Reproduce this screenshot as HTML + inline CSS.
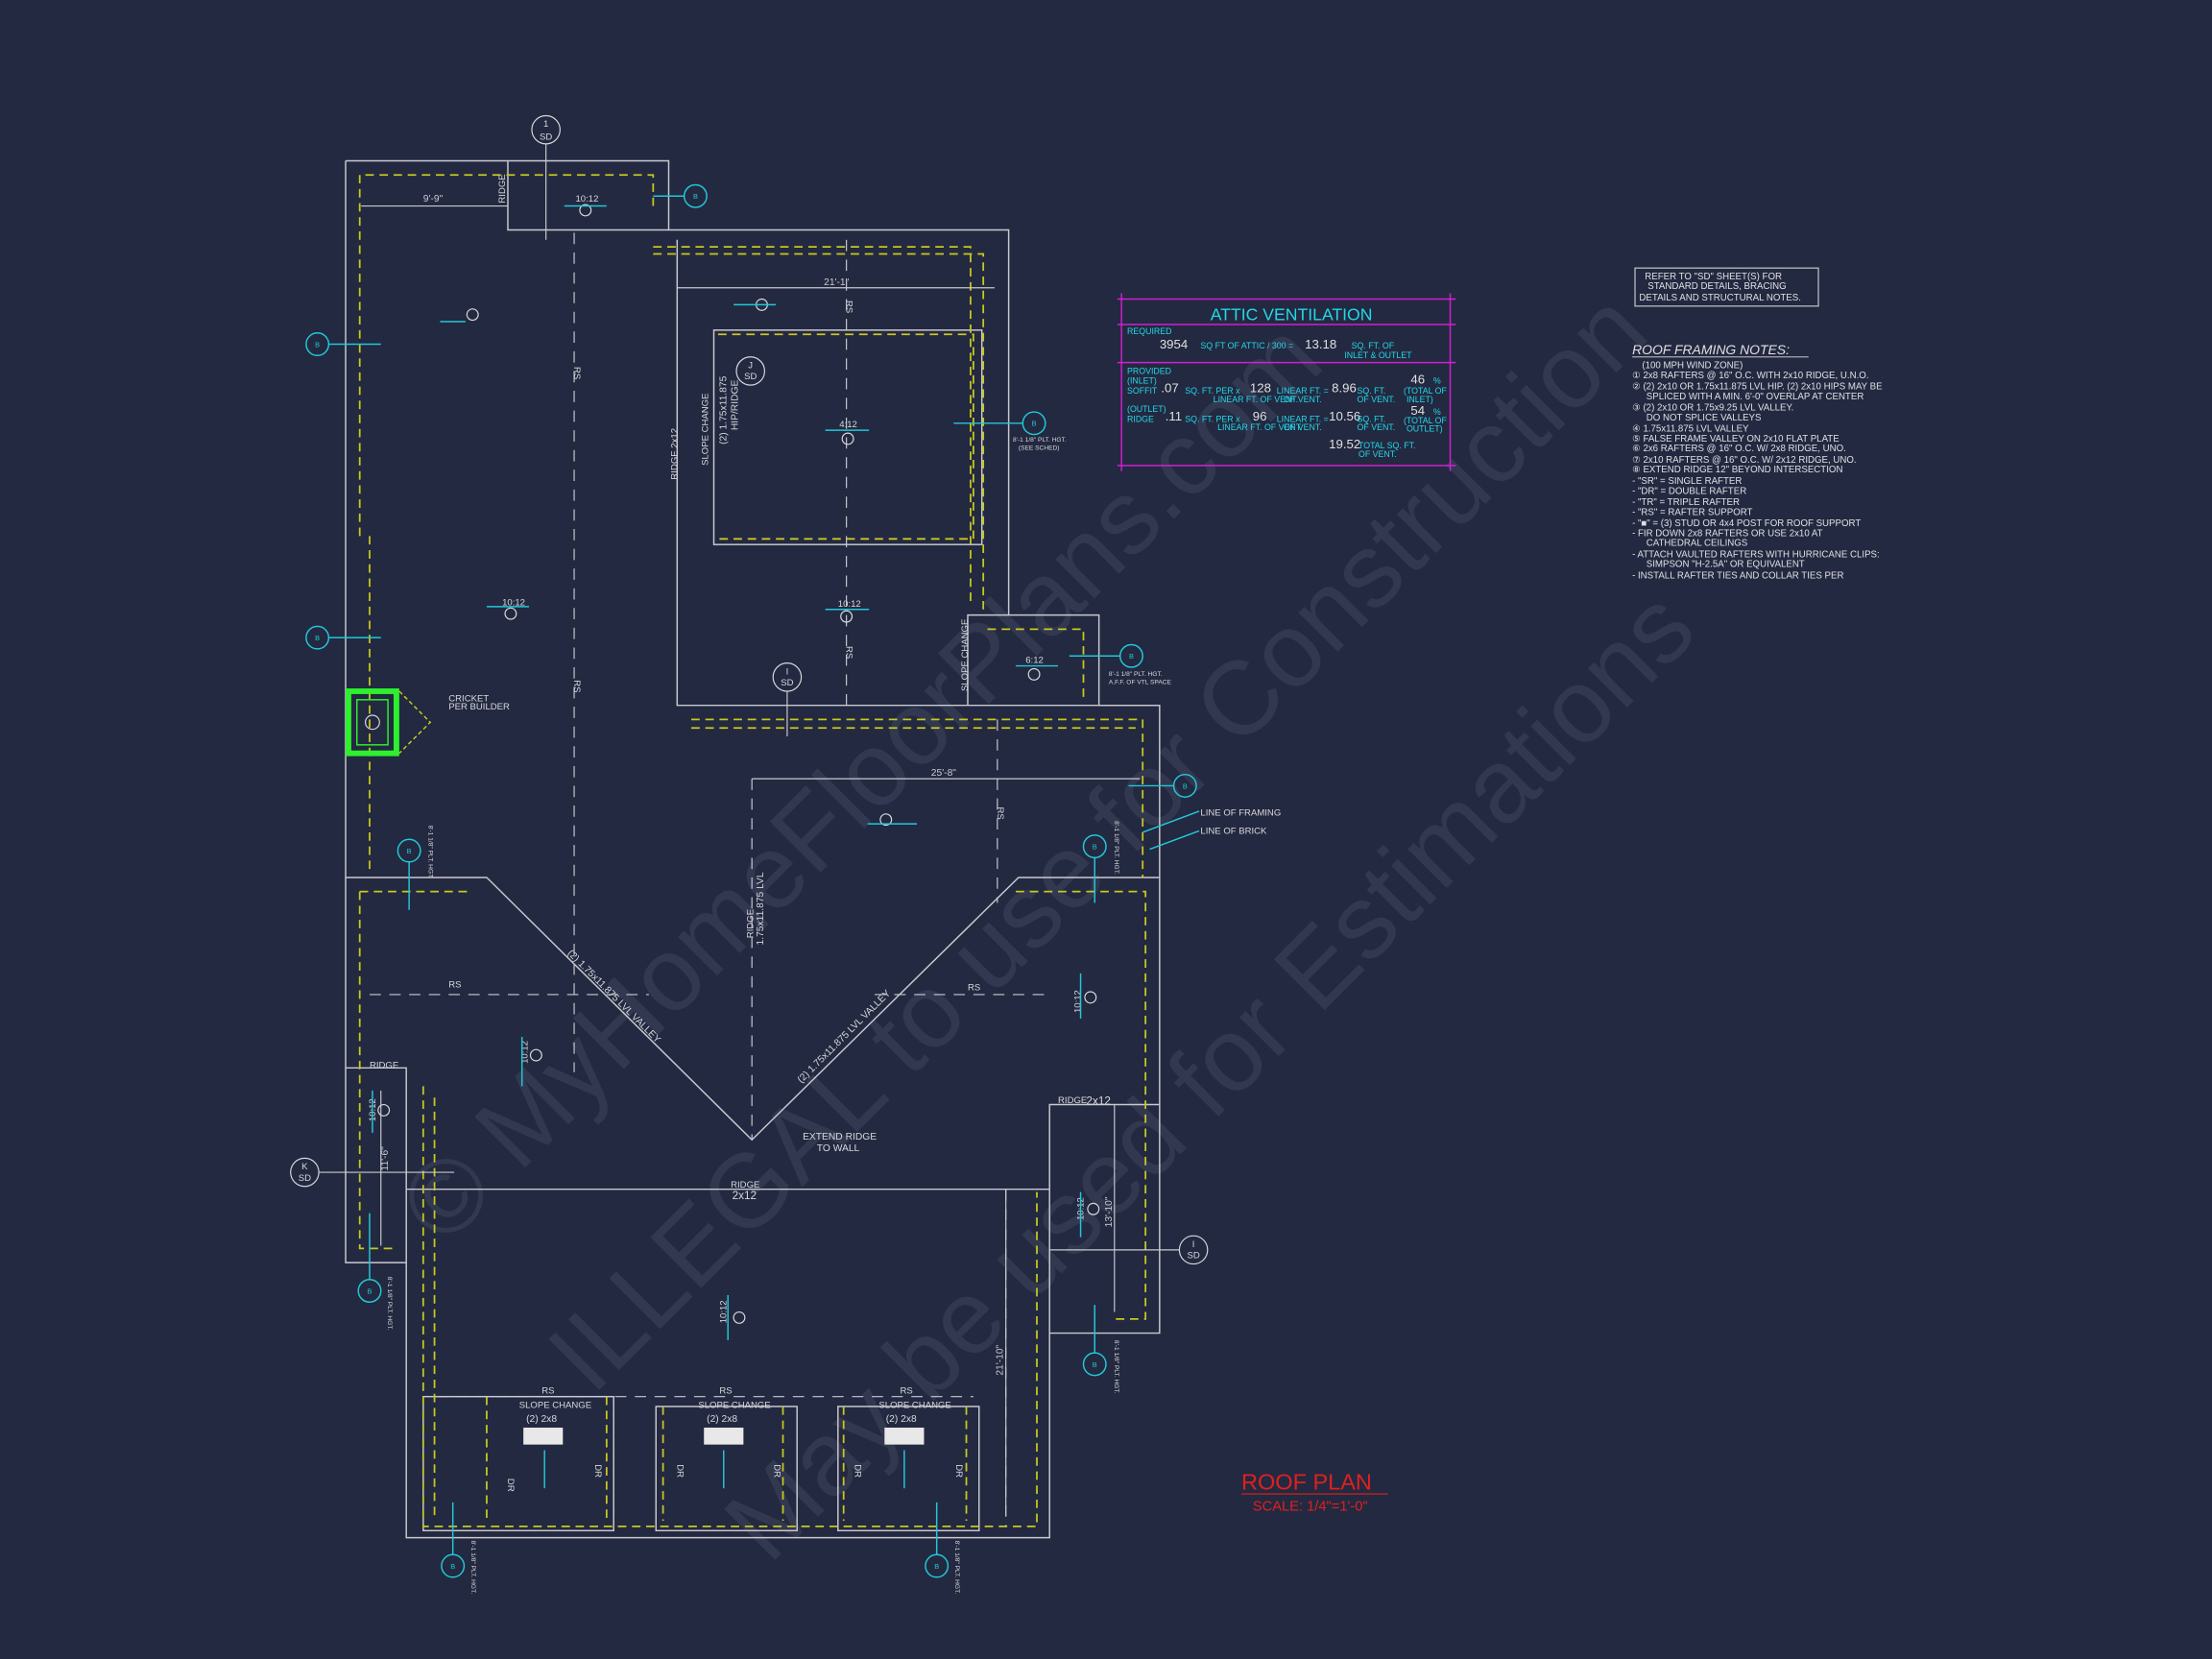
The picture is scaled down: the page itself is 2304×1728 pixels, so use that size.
<!DOCTYPE html>
<html><head><meta charset="utf-8"><style>
html,body{margin:0;padding:0;background:#232940;}
svg{display:block}
text{font-family:"Liberation Sans",sans-serif}
</style></head><body>
<svg width="2304" height="1728" viewBox="0 0 1568 1176" xmlns="http://www.w3.org/2000/svg">
<rect width="1568" height="1176" fill="#232940"/>
<!-- watermark -->
<g fill="#323850" font-family="Liberation Serif" font-size="74">
<text transform="translate(315,885) rotate(-45)">© MyHomeFloorPlans.com</text>
<text transform="translate(420,990) rotate(-45)">ILLEGAL to use for Construction</text>
<text transform="translate(545,1110) rotate(-45)">May be used for Estimations</text>
</g>
<!-- main outlines -->
<g fill="none" stroke="#c9c9cf" stroke-width="1">
<polyline points="245,114 474,114 474,163 715,163 715,436 779,436 779,500 822,500 822,945 744,945 744,1090 288,1090 288,895 245,895 245,114"/>
<polyline points="360,114 360,163 474,163"/>
<polyline points="480,170 480,500 822,500"/>
<polyline points="686,500 686,436 715,436"/>
<polyline points="245,622 345,622 533,808 722,622 822,622"/>
<polyline points="245,757 288,757 288,895"/>
<polyline points="822,783 744,783 744,945"/>
<line x1="288" y1="843" x2="744" y2="843"/>
<rect x="506" y="234" width="190" height="152"/>
<rect x="300" y="990" width="135" height="95"/>
<rect x="465" y="997" width="100" height="88"/>
<rect x="594" y="997" width="100" height="88"/>
</g>
<!-- yellow dashed -->
<g fill="none" stroke="#c8c820" stroke-width="1.2" stroke-dasharray="6,4">
<polyline points="255,380 255,124 463,124 463,150"/>
<polyline points="463,175 688,175 688,430"/>
<polyline points="463,180 697,180 697,436"/>
<polyline points="509,237 690,237 690,382 509,382"/>
<polyline points="700,446 768,446 768,498"/>
<polyline points="490,510 810,510 810,622"/>
<polyline points="490,516 805,516"/>
<polyline points="262,380 262,617"/>
<polyline points="255,632 335,632"/>
<polyline points="720,632 812,632 812,935 790,935"/>
<polyline points="255,632 255,885 280,885"/>
<polyline points="300,770 300,1082 735,1082 735,845"/>
<polyline points="308,778 308,1075"/>
<polyline points="345,990 345,1080"/><polyline points="430,990 430,1080"/>
<polyline points="470,997 470,1078"/><polyline points="555,997 555,1078"/>
<polyline points="598,997 598,1078"/><polyline points="685,997 685,1078"/>
</g>
<!-- dashed white (RS lines) -->
<g fill="none" stroke="#c9c9cf" stroke-width="0.8" stroke-dasharray="8,6">
<line x1="407" y1="165" x2="407" y2="760"/>
<line x1="600" y1="170" x2="600" y2="500"/>
<line x1="533" y1="552" x2="533" y2="808"/>
<line x1="707" y1="510" x2="707" y2="640"/>
<line x1="262" y1="705" x2="460" y2="705"/>
<line x1="620" y1="705" x2="745" y2="705"/>
<line x1="713" y1="843" x2="713" y2="1082"/>
<line x1="310" y1="990" x2="690" y2="990"/>
</g>
<!-- dimension lines -->
<g stroke="#c9c9cf" stroke-width="0.8" fill="#c9c9cf" font-size="7">
<line x1="256" y1="146" x2="360" y2="146"/><text x="300" y="143" stroke="none">9'-9"</text>
<line x1="480" y1="204" x2="705" y2="204"/><text x="584" y="202" stroke="none">21'-1"</text>
<line x1="533" y1="552" x2="808" y2="552"/><text x="660" y="550" stroke="none">25'-8"</text>
<line x1="270" y1="773" x2="270" y2="883"/><text transform="translate(275,830) rotate(-90)" stroke="none">11'-6"</text>
<line x1="790" y1="783" x2="790" y2="930"/><text transform="translate(788,870) rotate(-90)" stroke="none">13'-10"</text>
<line x1="713" y1="843" x2="713" y2="1075"/><text transform="translate(711,975) rotate(-90)" stroke="none">21'-10"</text>
</g>
<!-- labels white small -->
<g fill="#d8d8dc" font-size="6.5">
<text transform="translate(358,144) rotate(-90)">RIDGE</text>
<text x="408" y="143">10:12</text>
<text x="356" y="429">10:12</text>
<text x="594" y="430">10:12</text>
<text x="595" y="303">4:12</text>
<text x="727" y="470">6:12</text>
<text transform="translate(480,340) rotate(-90)">RIDGE 2x12</text>
<text transform="translate(502,330) rotate(-90)">SLOPE CHANGE</text>
<text transform="translate(515,315) rotate(-90)" font-size="7">(2) 1.75x11.875</text>
<text transform="translate(523,305) rotate(-90)" font-size="7">HIP/RIDGE</text>
<text transform="translate(686,490) rotate(-90)">SLOPE CHANGE</text>
<text transform="translate(534,665) rotate(-90)">RIDGE</text>
<text transform="translate(541,670) rotate(-90)" font-size="7">1.75x11.875 LVL</text>
<text transform="translate(402,676) rotate(45)" font-size="7">(2) 1.75x11.875 LVL VALLEY</text>
<text transform="translate(568,768) rotate(-45)" font-size="7">(2) 1.75x11.875 LVL VALLEY</text>
<text x="318" y="497">CRICKET</text><text x="318" y="503">PER BUILDER</text>
<text x="851" y="578">LINE OF FRAMING</text>
<text x="851" y="591">LINE OF BRICK</text>
<text x="569" y="808" font-size="7">EXTEND RIDGE</text><text x="579" y="816" font-size="7">TO WALL</text>
<text x="518" y="842">RIDGE</text><text x="519" y="850" font-size="8">2x12</text>
<text x="262" y="757">RIDGE</text>
<text x="750" y="782">RIDGE</text><text x="770" y="783" font-size="8">2x12</text>
<text x="318" y="700">RS</text><text x="686" y="702">RS</text>
<text transform="translate(407,260) rotate(90)">RS</text>
<text transform="translate(600,213) rotate(90)">RS</text>
<text transform="translate(600,458) rotate(90)">RS</text>
<text transform="translate(407,482) rotate(90)">RS</text>
<text transform="translate(707,572) rotate(90)">RS</text>
<text transform="translate(374,754) rotate(-90)">10:12</text>
<text transform="translate(266,795) rotate(-90)">10:12</text>
<text transform="translate(766,718) rotate(-90)">10:12</text>
<text transform="translate(768,865) rotate(-90)">10:12</text>
<text transform="translate(515,938) rotate(-90)">10:12</text>
<text x="384" y="988">RS</text><text x="510" y="988">RS</text><text x="638" y="988">RS</text>
<text x="368" y="998">SLOPE CHANGE</text><text x="495" y="998">SLOPE CHANGE</text><text x="623" y="998">SLOPE CHANGE</text>
<text x="373" y="1008" font-size="7">(2) 2x8</text><text x="501" y="1008" font-size="7">(2) 2x8</text><text x="628" y="1008" font-size="7">(2) 2x8</text>
<text transform="translate(360,1048) rotate(90)">DR</text><text transform="translate(422,1038) rotate(90)">DR</text>
<text transform="translate(480,1038) rotate(90)">DR</text><text transform="translate(549,1038) rotate(90)">DR</text>
<text transform="translate(606,1038) rotate(90)">DR</text><text transform="translate(678,1038) rotate(90)">DR</text>
</g>
<g fill="#e8e8e8"><rect x="371" y="1012" width="28" height="12"/><rect x="499" y="1012" width="28" height="12"/><rect x="627" y="1012" width="28" height="12"/></g>
<!-- circle symbols -->
<g fill="none" stroke="#d8d8dc" stroke-width="0.8">
<circle cx="415" cy="149" r="4"/><circle cx="335" cy="223" r="4"/><circle cx="540" cy="216" r="4"/><circle cx="601" cy="311" r="4"/>
<circle cx="362" cy="435" r="4"/><circle cx="600" cy="437" r="4"/><circle cx="733" cy="478" r="4"/><circle cx="628" cy="581" r="4"/>
<circle cx="380" cy="748" r="4"/><circle cx="272" cy="787" r="4"/><circle cx="773" cy="707" r="4"/><circle cx="775" cy="857" r="4"/><circle cx="524" cy="934" r="4"/>
<circle cx="387" cy="92" r="10"/><circle cx="532" cy="263" r="10"/><circle cx="558" cy="480" r="10"/><circle cx="216" cy="831" r="10"/><circle cx="846" cy="886" r="10"/>
</g>
<g fill="#d8d8dc" font-size="6.5" text-anchor="middle">
<text x="387" y="90">1</text><text x="387" y="99">SD</text><text x="532" y="261">J</text><text x="532" y="269">SD</text>
<text x="558" y="478">I</text><text x="558" y="486">SD</text><text x="216" y="829">K</text><text x="216" y="837">SD</text>
<text x="846" y="884">I</text><text x="846" y="892">SD</text>
</g>
<g stroke="#c9c9cf" stroke-width="0.8"><line x1="387" y1="102" x2="387" y2="170"/><line x1="558" y1="490" x2="558" y2="522"/><line x1="226" y1="831" x2="322" y2="831"/><line x1="744" y1="886" x2="836" y2="886"/></g>
<!-- cyan section markers -->
<g stroke="#22c8d8" stroke-width="1" fill="none">
<circle cx="225" cy="244" r="8"/><line x1="233" y1="244" x2="270" y2="244"/>
<circle cx="225" cy="452" r="8"/><line x1="233" y1="452" x2="270" y2="452"/>
<circle cx="493" cy="139" r="8"/><line x1="463" y1="139" x2="485" y2="139"/>
<circle cx="733" cy="300" r="8"/><line x1="676" y1="300" x2="725" y2="300"/>
<circle cx="802" cy="465" r="8"/><line x1="758" y1="465" x2="794" y2="465"/>
<circle cx="840" cy="557" r="8"/><line x1="800" y1="557" x2="832" y2="557"/>
<circle cx="290" cy="603" r="8"/><line x1="290" y1="611" x2="290" y2="645"/>
<circle cx="776" cy="600" r="8"/><line x1="776" y1="608" x2="776" y2="640"/>
<circle cx="262" cy="915" r="8"/><line x1="262" y1="860" x2="262" y2="907"/>
<circle cx="776" cy="967" r="8"/><line x1="776" y1="925" x2="776" y2="959"/>
<circle cx="321" cy="1110" r="8"/><line x1="321" y1="1065" x2="321" y2="1102"/>
<circle cx="664" cy="1110" r="8"/><line x1="664" y1="1065" x2="664" y2="1102"/>
<line x1="810" y1="590" x2="850" y2="575"/><line x1="815" y1="602" x2="850" y2="589"/>
<line x1="312" y1="228" x2="330" y2="228"/>
<line x1="400" y1="146" x2="430" y2="146"/><line x1="345" y1="430" x2="375" y2="430"/><line x1="585" y1="432" x2="616" y2="432"/>
<line x1="585" y1="305" x2="616" y2="305"/><line x1="720" y1="472" x2="750" y2="472"/>
<line x1="370" y1="735" x2="370" y2="770"/><line x1="766" y1="690" x2="766" y2="722"/><line x1="264" y1="773" x2="264" y2="803"/>
<line x1="766" y1="845" x2="766" y2="877"/><line x1="516" y1="918" x2="516" y2="950"/>
<line x1="386" y1="1028" x2="386" y2="1055"/><line x1="513" y1="1028" x2="513" y2="1055"/><line x1="641" y1="1028" x2="641" y2="1055"/>
<line x1="520" y1="216" x2="550" y2="216"/><line x1="615" y1="584" x2="650" y2="584"/>
</g>
<g fill="#22c8d8" font-size="5" text-anchor="middle">
<text x="225" y="246">B</text><text x="225" y="454">B</text><text x="493" y="141">B</text><text x="733" y="302">B</text>
<text x="802" y="467">B</text><text x="840" y="559">B</text><text x="290" y="605">B</text><text x="776" y="602">B</text>
<text x="262" y="917">B</text><text x="776" y="969">B</text><text x="321" y="1112">B</text><text x="664" y="1112">B</text>
</g>
<g fill="#d8d8dc" font-size="4.5">
<text x="718" y="313">8'-1 1/8" PLT. HGT.</text><text x="722" y="319">(SEE SCHED)</text>
<text x="786" y="479">8'-1 1/8" PLT. HGT.</text><text x="786" y="485">A.F.F. OF VTL SPACE</text>
<text transform="translate(304,585) rotate(90)">8'-1 1/8" PLT. HGT.</text>
<text transform="translate(790,582) rotate(90)">8'-1 1/8" PLT. HGT.</text>
<text transform="translate(275,905) rotate(90)">8'-1 1/8" PLT. HGT.</text>
<text transform="translate(790,950) rotate(90)">8'-1 1/8" PLT. HGT.</text>
<text transform="translate(334,1092) rotate(90)">8'-1 1/8" PLT. HGT.</text>
<text transform="translate(677,1092) rotate(90)">8'-1 1/8" PLT. HGT.</text>
</g>
<!-- chimney -->
<rect x="247" y="490" width="34" height="44" fill="none" stroke="#2ef02e" stroke-width="4"/>
<rect x="253" y="496" width="22" height="32" fill="none" stroke="#2ef02e" stroke-width="1"/>
<circle cx="264" cy="512" r="5" fill="none" stroke="#d8d8dc" stroke-width="0.8"/>
<polyline points="283,490 305,512 283,534" fill="none" stroke="#c8c820" stroke-dasharray="3,2"/>
<!-- attic ventilation -->
<g stroke="#d020d0" stroke-width="1" fill="none">
<line x1="792" y1="212" x2="1032" y2="212"/><line x1="792" y1="230" x2="1032" y2="230"/>
<line x1="792" y1="257" x2="1032" y2="257"/><line x1="792" y1="330" x2="1032" y2="330"/>
<line x1="795" y1="208" x2="795" y2="334"/><line x1="1028" y1="208" x2="1028" y2="334"/>
</g>
<g fill="#22d8e8" font-size="6">
<text x="858" y="227" font-size="12">ATTIC VENTILATION</text>
<text x="799" y="237">REQUIRED</text>
<text x="822" y="247" font-size="9" fill="#e0e0e0">3954</text><text x="851" y="247">SQ FT OF ATTIC / 300 =</text>
<text x="925" y="247" font-size="9" fill="#e0e0e0">13.18</text><text x="958" y="247">SQ. FT. OF</text><text x="953" y="254">INLET &amp; OUTLET</text>
<text x="799" y="265">PROVIDED</text><text x="799" y="272">(INLET)</text><text x="799" y="279">SOFFIT</text>
<text x="823" y="278" font-size="9" fill="#e0e0e0">.07</text><text x="840" y="279">SQ. FT. PER x</text><text x="886" y="278" font-size="9" fill="#e0e0e0">128</text>
<text x="905" y="279">LINEAR FT. =</text><text x="944" y="278" font-size="9" fill="#e0e0e0">8.96</text><text x="962" y="279">SQ. FT.</text>
<text x="1000" y="272" font-size="9" fill="#e0e0e0">46</text><text x="1016" y="272">%</text>
<text x="860" y="285">LINEAR FT. OF VENT.</text><text x="910" y="285">OF VENT.</text><text x="962" y="285">OF VENT.</text><text x="995" y="279">(TOTAL OF</text><text x="997" y="285">INLET)</text>
<text x="799" y="292">(OUTLET)</text><text x="799" y="299">RIDGE</text>
<text x="826" y="298" font-size="9" fill="#e0e0e0">.11</text><text x="840" y="299">SQ. FT. PER x</text><text x="888" y="298" font-size="9" fill="#e0e0e0">96</text>
<text x="905" y="299">LINEAR FT. =</text><text x="942" y="298" font-size="9" fill="#e0e0e0">10.56</text><text x="962" y="299">SQ. FT.</text>
<text x="1000" y="294" font-size="9" fill="#e0e0e0">54</text><text x="1016" y="294">%</text>
<text x="863" y="305">LINEAR FT. OF VENT.</text><text x="910" y="305">OF VENT.</text><text x="962" y="305">OF VENT.</text><text x="995" y="300">(TOTAL OF</text><text x="997" y="306">OUTLET)</text>
<text x="942" y="318" font-size="9" fill="#e0e0e0">19.52</text><text x="963" y="318">TOTAL SQ. FT.</text><text x="963" y="324">OF VENT.</text>
</g>
<!-- notes -->
<rect x="1159" y="190" width="130" height="27" fill="none" stroke="#c9c9cf" stroke-width="0.8"/>
<g fill="#e0e0e4" font-size="6.6">
<text x="1166" y="198">REFER TO "SD" SHEET(S) FOR</text>
<text x="1168" y="205">STANDARD DETAILS, BRACING</text>
<text x="1162" y="213">DETAILS AND STRUCTURAL NOTES.</text>
<text x="1157" y="251" font-size="9.5" font-style="italic">ROOF FRAMING NOTES:</text>
<line x1="1157" y1="253" x2="1282" y2="253" stroke="#e0e0e4" stroke-width="0.6"/>
<text x="1164" y="261">(100 MPH WIND ZONE)</text>
<text x="1157" y="268">①  2x8 RAFTERS @ 16" O.C. WITH 2x10 RIDGE, U.N.O.</text>
<text x="1157" y="276">②  (2) 2x10 OR 1.75x11.875 LVL HIP. (2) 2x10 HIPS MAY BE</text>
<text x="1167" y="283">SPLICED WITH A MIN. 6'-0" OVERLAP AT CENTER</text>
<text x="1157" y="291">③  (2) 2x10 OR 1.75x9.25 LVL VALLEY.</text>
<text x="1167" y="298">DO NOT SPLICE VALLEYS</text>
<text x="1157" y="306">④  1.75x11.875 LVL VALLEY</text>
<text x="1157" y="313">⑤  FALSE FRAME VALLEY ON 2x10 FLAT PLATE</text>
<text x="1157" y="320">⑥  2x6 RAFTERS @ 16" O.C. W/ 2x8 RIDGE, UNO.</text>
<text x="1157" y="328">⑦  2x10 RAFTERS @ 16" O.C. W/ 2x12 RIDGE, UNO.</text>
<text x="1157" y="335">⑧  EXTEND RIDGE 12" BEYOND INTERSECTION</text>
<text x="1157" y="343">-   "SR" = SINGLE RAFTER</text>
<text x="1157" y="350">-   "DR" = DOUBLE RAFTER</text>
<text x="1157" y="358">-   "TR" = TRIPLE RAFTER</text>
<text x="1157" y="365">-   "RS" = RAFTER SUPPORT</text>
<text x="1157" y="373">-   "■"  = (3) STUD OR 4x4 POST FOR ROOF SUPPORT</text>
<text x="1157" y="380">-   FIR DOWN 2x8 RAFTERS OR USE 2x10 AT</text>
<text x="1167" y="387">CATHEDRAL CEILINGS</text>
<text x="1157" y="395">-   ATTACH VAULTED RAFTERS WITH HURRICANE CLIPS:</text>
<text x="1167" y="402">SIMPSON "H-2.5A" OR EQUIVALENT</text>
<text x="1157" y="410">-   INSTALL RAFTER TIES AND COLLAR TIES PER</text>
</g>
<!-- title -->
<text x="880" y="1056" fill="#e02020" font-family="Liberation Serif" font-size="16">ROOF PLAN</text>
<line x1="880" y1="1059" x2="984" y2="1059" stroke="#e02020" stroke-width="0.8"/>
<text x="888" y="1071" fill="#e02020" font-family="Liberation Serif" font-size="10">SCALE: 1/4"=1'-0"</text>
</svg>
</body></html>
